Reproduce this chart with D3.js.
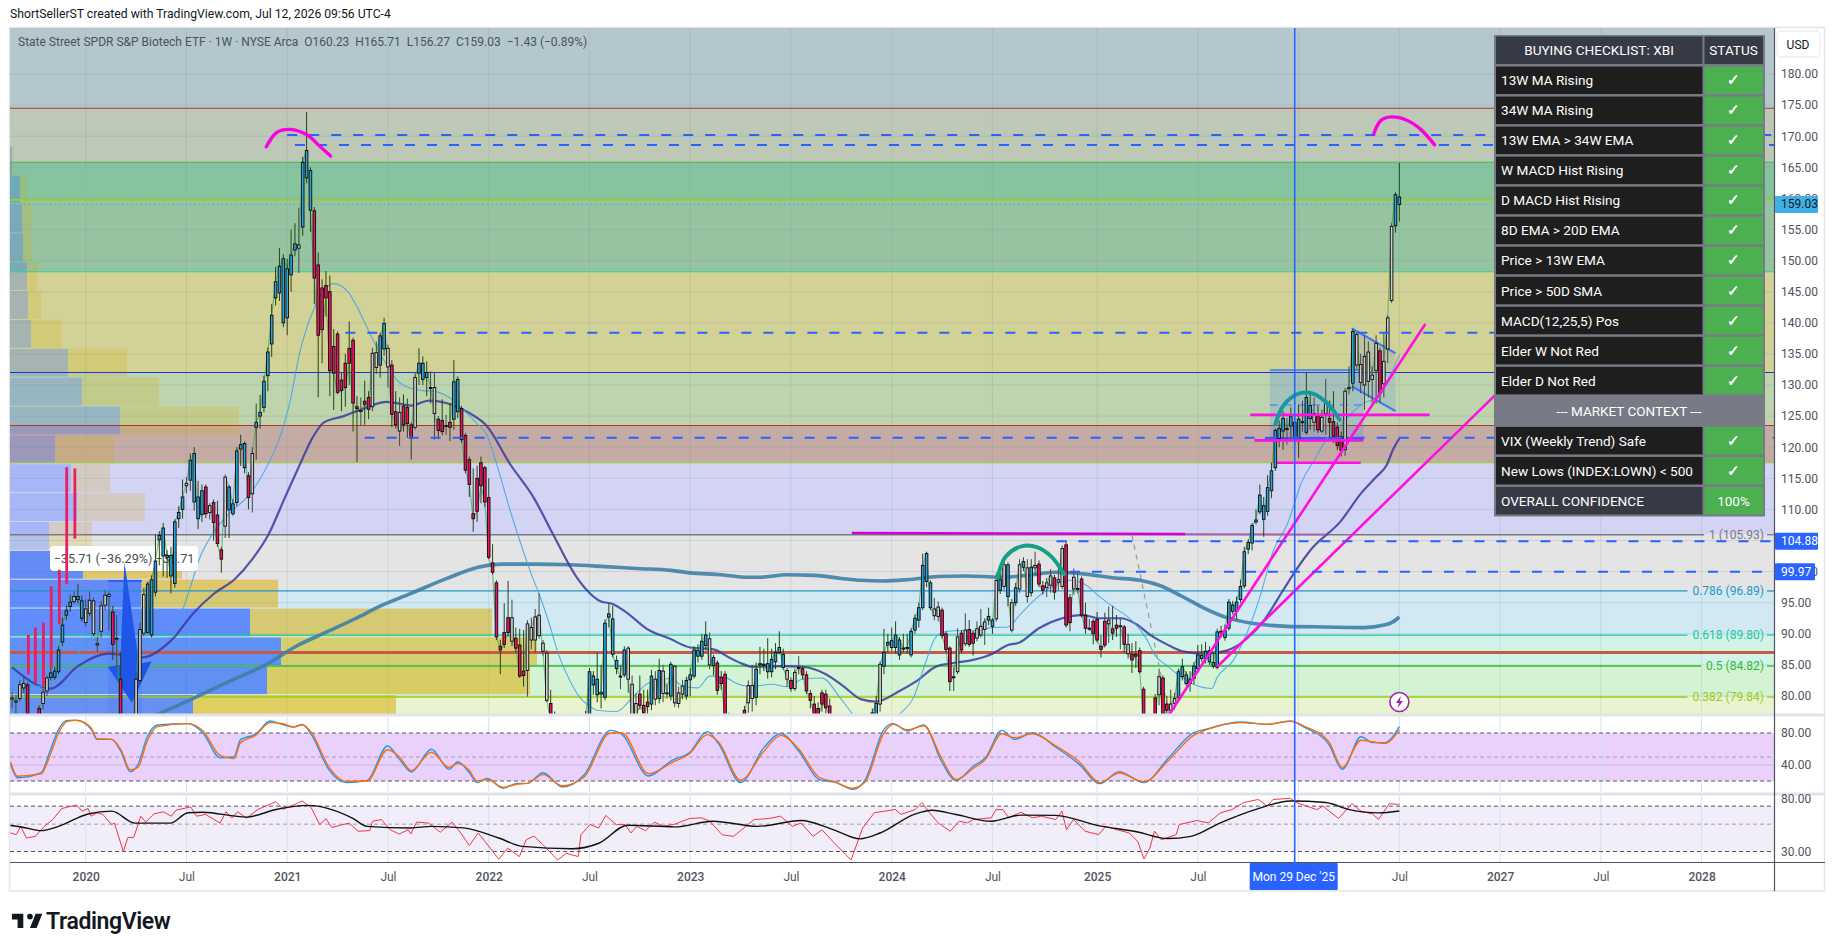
<!DOCTYPE html>
<html><head><meta charset="utf-8">
<script src="https://d3js.org/d3.v7.min.js"></script>
<style>html,body{margin:0;padding:0;background:#fff;overflow:hidden}svg{display:block}text{font-family:Roboto,"Liberation Sans",sans-serif}</style>
</head><body><svg id="c" width="1835" height="951"></svg>
<script>
// ---------- weekly candles, first bar is 19 weeks before 6 Jan 2020, ten per line ----------
const opens=[79.5,79.2,79.6,81.3,81.8,76,75,78,78.8,80.8,
83,83,83.9,88.7,93,94.4,95.2,95.5,95.3,94,
93.3,95.3,88.4,90.4,94.6,96,93.5,89.3,82.7,75,
70,66,77,82.5,90.1,90.2,89.8,96.7,105.1,102.5,
102.3,102.6,98.1,108.5,110,113.8,114.7,111.2,112,113,
113.6,109.5,111.1,109.1,103.5,107.3,109.9,109.3,111.1,119.7,
116.7,115.4,112.5,123.2,125,126.4,131.5,136.6,144,144.8,
140,140.8,147.7,151.7,152,155.4,163.3,164.5,158,149.3,
145.6,146,145,136.2,138.2,130.8,133.5,135.9,137.2,126.5,
125.9,127.4,128,126.5,132.8,133.2,135.8,135.9,133.2,125.7,
125.6,126.6,126.4,123.6,123.2,131.9,133.5,131.2,129.6,129.6,
124.5,124.3,123.5,124,124.5,125.7,126.2,121.9,118,109.3,
115,117.5,116.7,111.9,101.4,98.2,88,90.2,92.6,92.6,
89.3,88.2,84,84.1,89,89,89.7,88.5,86.9,78.8,
76,74,71,69,67,64,66,70,68,76.5,
81.8,82.7,80.3,79.8,92.7,92.4,85.7,83.2,83.4,87.7,
81.9,78.8,80.3,78.5,79,78.7,82.7,79.6,80.4,80.4,
80,84.8,80.5,81.6,80,82.6,83.2,86.4,86.4,88.1,
89.2,84.9,85.3,83,83.5,76,72,71,69,77.7,
78.9,81.7,79.8,85,84.9,85.2,83.9,85.5,87,86.7,
84.1,82.5,81.2,84.6,84.4,83.4,80.4,78.7,78,80.5,
80.3,78.4,76,74,72,73,71,69,67,65.5,
66,67,70,74,78.7,84.8,88.2,87.8,87.8,86.6,
87.6,87.6,86.6,90.6,92.2,94.2,98.4,98.2,94,92.8,
93.8,90,87.7,83.1,83.9,90.1,88.4,90.7,90.1,89.3,
89.8,90.7,92.2,92.2,92.4,97,97.6,101.1,95,95,
97.2,100.7,100.6,96.6,100.6,101.2,97.7,97.4,97.8,99,
98.3,97.6,104.3,95.8,97.2,97.3,98.8,93,90.9,92,
92.3,88,92,91.6,90.8,91.4,91.3,91.1,88.3,86.7,
86.7,87.3,81.1,76,72,79.7,80.2,82.9,78.7,77.7,
78.8,79.7,83.1,82,82,82.8,84.4,86,86,87.3,
85.4,84.6,90.1,89.4,90.9,93.6,93.6,95.5,97.7,103.6,
104.6,108,109.6,110.6,109.7,113,116.7,121.4,122.6,123,
123.4,124,121.2,124.1,122.4,124.6,124,125,122.6,125.4,
124.6,124.1,123.2,121.7,119.6,129.4,130.3,133.2,133.3,130,
130.6,130.9,132.3,135.5,130.2,135.8,143.6,155.6,160.23];
const closes=[79.7,79,81.8,82,76,75,76.5,76,80.6,82.9,
83.7,84,87.4,91.4,93.7,95.1,96,96,92.5,91.8,
95.4,90,88.2,94.5,96.2,96.3,88.3,89.3,75,70,
66,72,82.7,90.7,96.3,98,98.7,101.7,105.8,107,
102.6,99.3,108,109.5,112,114.2,117.9,119,108.5,109.2,
109.3,110.6,107.9,104.5,102,115.2,113.6,110.9,119.4,120.4,
120.6,111.9,119,124,125.6,130.6,135.3,141.2,146.6,149.1,
150.3,148.7,150.9,152.7,152.5,165.8,167.7,158.1,147.2,138,
138.9,144,132.3,131.9,128.8,129.1,129.6,133.5,127.1,126.2,
125.9,126.9,126.1,135.1,135.2,137.9,139.9,132.9,125.3,123.6,
122.6,123.6,123.8,121.4,131.2,133.5,130.9,132,129.6,125.4,
122.7,122.5,123.5,123.2,130.5,130.9,121.2,116.3,114,108.5,
109.7,113.8,111.2,102.3,99.9,89.5,87.4,88.3,90.2,88.8,
87.7,83.2,83.3,91.6,91,92.7,93,87.2,79.3,76,
74,71,69,67,64,66,70,68,76,83.9,
83.2,80.2,80.6,91.7,93.2,86.7,84.4,83.2,87.4,82.7,
77,76.8,78.5,77.3,78.3,83.2,79.5,84.1,84,80.5,
85.1,78.9,78.8,80.3,82.5,83.4,87.4,87.3,88.8,89.8,
85,86.2,80.9,82,76.8,72,70,68,72,76.5,
81.7,79.6,84.3,85.2,85.1,83.9,85.9,87,87.8,84.6,
82.7,81.2,83.8,84.6,83.4,80.8,79.3,77,76.5,78.7,
78.1,76.9,74,72,73,71,69,67,65.5,66,
67,70,77.3,78.8,85.1,87,88.6,88.9,89.8,89,
87.7,87.8,90.4,92.5,94.2,101,102.9,94.2,92.9,94.3,
89.7,87.5,82.3,83.1,89.5,87.4,90.6,88.3,88.5,90.8,
91.2,91.9,92.8,91.2,98.6,98.7,101.1,96,90.6,97.4,
101.1,101.6,96,100.7,101,98,97,98.2,99.3,96.7,
98.7,103.7,91.4,91.8,99.1,97.2,93,90.9,90.9,90,
89,87.5,88.2,92.2,90.1,90.9,91.3,88.3,86.8,85.8,
86.4,83.9,76,70,75,76.5,83.1,76.5,77.7,78.7,
79.6,83.9,84.7,83.4,82.7,84.8,86.6,86.5,87.2,85.5,
84.8,90.3,90.4,90.5,95.1,94.6,95.1,97.6,103.2,104.7,
107.4,108.3,112.3,108.4,113.5,116.2,122.7,123,124.6,123,
124.9,121.4,124.5,124.1,128,126.7,125.4,122.8,124.8,127.4,
124,121.7,120.3,119.5,129,129.6,138.6,138.1,130.4,134.6,
135.3,131.6,136.7,128.7,133.8,140.8,155.5,160.6,159.03];
const highs=[80.6,80.2,82.5,83,82.2,77,77.2,78.5,81.2,83.3,
84.5,84.6,88,92.6,94.6,96.3,96.8,98,96.2,95.5,
96.8,95.8,89.5,95.2,97,96.8,94.5,93,87,76,
72,73,83.8,91.8,97.4,98.4,99.4,106,106.5,107.8,
103.5,104,108.4,110.5,114.8,115.2,119,120,114.6,114,
114,111,111.6,111.4,104,115.6,113.9,111.6,120,122,
120.9,116,120,127,128.4,131.5,136,143,149,152,
151,150.3,155,156,158.5,166.7,173.9,165,158.6,151.3,
147,148.3,147.6,139,138.6,132,135,140.2,137.6,128.2,
128,130.7,129,136,137,138.4,140.8,136.5,134,129,
128,128.5,127.8,124,132,135.9,134.6,133.8,132.2,132,
125,127.7,125.2,127,134,131.4,126.6,122.3,118.5,116.6,
117,118.5,117,115,104.4,98.6,89,94.9,98.5,95.5,
91,90.8,90.6,92.2,92.6,94,96.5,89,87.4,81,
77.5,76,73,71,69,68,71,72,77.6,84.5,
84,87,85,92.3,94.8,94.5,86.5,85,88,88,
83.3,80.4,83.3,81,81,84.2,84,86,85,82,
85.5,85,81.5,82.6,83.1,84.5,88,88.3,90,92,
90.2,86.6,85.7,84,84,77.3,74,73,74,78.4,
82.5,85,85.4,87.9,87.6,89.3,87.6,88.5,90.4,87.6,
84.5,83,84.4,86.4,84.8,84,81,80,79,81,
81,79.6,77,75.5,75,74.5,72.5,71,68.5,68,
69,72,78,80,85.6,90.8,90,91,92,89.5,
90,90,90.9,93.1,95,102.9,103.2,98.6,95.8,95.2,
94.2,90.4,88,84.6,90.9,90.6,93.3,92.2,90.5,92,
94,92.5,94.2,92.5,99.8,101,102.5,101.5,95.6,98.2,
102,102.3,102,102,103.2,101.8,98.5,99,100.4,99.5,
101,104.2,105,96.4,100.5,99.8,99.2,95,92.4,92.4,
93.5,89.7,93.4,94.4,94.5,93,92.5,91.4,90,88.5,
88.8,87.8,81.5,77,77,80.3,84.4,83.3,80,81,
80.5,84.4,86,84,84,85.5,88.2,88.3,88.7,88,
86.9,90.8,91.3,91.5,95.6,95.3,96,98.7,104,105.2,
107.8,110,114,112,115.5,117.5,123,124.3,125.8,124.7,
126.4,124.9,126.8,127.5,132,129,128,126.7,126,131,
127.5,129,124,122.5,129.5,133,139,138.5,135,138,
137,133,138,136,138.3,141.2,156,161,165.71];
const lows=[78,77,79.2,80.5,75,74,74.5,75,77.8,80,
82.5,82.6,83.5,88,92.2,93.5,94.8,94.9,92,91.2,
92.8,89.7,87.1,89.4,93.8,90.5,85.8,84.5,73,66,
64,65,75,82,89.6,90,89.4,96,101,99.2,
99,96.5,97.4,107,108.5,112.6,113,109.8,106.8,108,
108.6,108.4,105,104,99.8,105.4,105.4,109,110.5,117,
115.8,110,109.5,118,123,125.6,129,134.5,142.8,143.5,
139.3,138,145,150.7,148,154,162.4,154.6,143,128,
133.5,141,128.2,126,128.5,125.8,126.5,130,122.5,117.6,
123.4,123.6,124.5,125.8,131.8,131.2,134.7,129.6,123.2,123,
120.2,122.5,121.5,118,122.8,130,130,128.2,127,121.2,
121.3,121.9,122,121,122.8,124.7,120.7,115.8,112,106.4,
108,111,110.4,102,99.5,89,83.5,87.7,89.5,88,
87,82.9,81.5,79.9,87.5,87,89.2,86.5,79,75,
72.5,70,67,65,62,62,63,66,67,76,
80.2,79,78,79.3,91,86.2,83.5,81.1,83,80.5,
76.6,75.8,77.8,76.5,77,77.7,78.5,78.8,79,79.6,
79.3,78.2,78.1,79.5,79.4,80,82.8,85.4,85.8,87.3,
84.3,83.3,80.2,81,74,71,69,67,67,75.5,
77.3,77.5,78.5,83.5,84,82.8,83,84.3,86.7,84.2,
81.5,80.7,80.8,83.5,82.7,80.3,78,76,75,77.5,
77.2,75,73,71,70,69.5,68,66,64,64.2,
65,66.5,69.5,73.5,77.5,83.5,87,87.2,86.8,85.8,
87,86.8,86.2,90,91,93.8,97.5,93.8,92.2,92,
89.2,87,80.8,80.8,83.5,86.9,88,87.9,86.5,88.8,
89.4,88.2,91.4,90,92,96.4,97,94.4,90.2,94.5,
96.6,100.1,95,96,99.5,97.5,96.3,95.9,96.6,95.5,
97,97.2,91,90.4,96.3,96.5,92.6,90,90.5,88.3,
88.6,86.2,87.8,88.5,89,89.5,87.5,87,86,83.7,
84.5,83.6,75,66,66,75.5,78.5,75.5,76.9,77,
77.8,79.3,82.5,81.6,80.7,81.9,83.8,85.5,85.2,85,
84.4,84.3,89.4,88.9,90.5,93.1,92.3,95,97.3,102.8,
103.4,107.6,109.2,105.6,109,111.8,116.2,120,119.6,120.4,
121,120.2,118.3,122.5,122,122.8,122.5,122.3,122.3,122,
121.5,120.7,119.5,118.5,118.6,128.5,129,132.5,128.7,126,
128,126.5,127,127.2,128,133.5,143.2,154.5,156.27];
const impulse=("ggggrrgrgg"+"bbbbbbgbbg"+"ggggggrgrr"+"rggggbbbbb"+"bbbbbgbbbb"+"rgrrrgbbbb"+"brgbbbbbbb"+"bbbbgbbbrr"+"rrrrrrrrrr"+"grrggbbgrr"+"grrrgbbbgg"+"rrgrbbrrrr"+"rrrrrrrrrg"+"rrrggggggr"+"rrrrrrggbb"+"bbbbbbbgbg"+"ggrrrbgbgg"+"bgggbbbbbb"+"gbrrrrrrrr"+"ggbbbbbbbb"+"grggrrrrrr"+"rrrrrrrrrg"+"ggbbgbbbbb"+"bbbbbbbbgg"+"rrrggrgrrg"+"ggbbgbgbgb"+"gbgbgrrggr"+"ggrrggrrgr"+"rrrgrrgrgr"+"rrrrrrgrrg"+"gbbbbbbbbb"+"bbbbbbbbbb"+"bbbbbbbbbg"+"bbbgbbgrgg"+"rrrrggbggg"+"gggrgggbb").split("");
const firstWeek=-19;

// ---------- moving averages: [week since 6 Jan 2020, price] ----------
const ma13=[[-19,83],[-12,81.5],[-8,82.5],[-3,86],[0,88.5],[4,91],[7,93],[9,91],[11,87.5],[13,87],[15,88],[19,89.1],[22.6,89.5],[25,93.7],[27,97.5],[29.5,102.3],[33,106.3],[37,109.3],[42.4,112.5],[46.7,116.8],[51,123.3],[53,128.1],[55,134.6],[57.5,140],[59.6,143.2],[61.7,145.4],[64,146.3],[67.8,144.9],[70,142.6],[72.5,139.4],[75,136.2],[77.7,133.2],[80.3,130.8],[83.7,129.5],[87,129.1],[90.6,128.9],[94,127.9],[97.5,126],[101,123.8],[103.5,122],[106,117.4],[109.5,109.9],[112,105],[115,99.6],[117,96.4],[119.4,92.1],[122,86.7],[125,82.4],[127.6,79.7],[130,78.4],[132,77.7],[137,77.5],[141,79.7],[145,82],[148,82.5],[151,82.9],[154,81.6],[158,81.3],[161,83.2],[165,83],[168,82],[171.5,81.5],[177,81.9],[181,81.5],[185,82.7],[190,82.9],[194.7,79.7],[198,77],[202,74],[206,73.5],[210,77],[213.6,79.7],[216.6,85.1],[218.8,88.9],[221,90.2],[224,90.5],[229,90.5],[234,91],[238,91.1],[241,93],[244.6,95.3],[250,97.8],[254,98.6],[258,97.9],[261.8,95.9],[265,94.4],[270,92.1],[274,88.9],[276,86.5],[279,84.9],[282.4,83.2],[287,81.6],[290.6,81.2],[292,83],[296,85.6],[299.6,90],[303,95.9],[306.5,103.4],[310,107.5],[314,114.7],[317,117.9],[320,121.1],[324.6,124.1],[329,126.8],[334,128.4],[337,131.9],[339,134.8]];
const ma34=[[-19,84.6],[-9,81.2],[-2,84.8],[6,86.8],[14.6,86.2],[22,88.9],[27.9,93.4],[33,96.4],[38.5,98.8],[43,102],[47.2,106],[51.4,111.9],[55.4,117.4],[58.5,121.5],[61.5,124],[66.6,125],[70.8,126],[77.8,127.3],[84,126.7],[88.6,127.5],[94.2,126.9],[99.3,125.4],[103.4,123.5],[109.5,117.3],[115.6,111.9],[120.6,106],[126.8,99],[133,95.2],[136,94.8],[139.6,93.4],[144.8,90.8],[150.8,89.2],[156,87.8],[162,87.5],[166,86.2],[169,85.3],[172,84.7],[180,84.8],[185,84.7],[191,83.5],[195.5,81.6],[200,79.5],[204,79.1],[210,80.8],[214.4,82.4],[219.7,84.8],[224,85.3],[229,85.8],[234,86.8],[238,88.2],[241,88.6],[246,90.9],[252,92.5],[257,93],[262,92.5],[267,92.5],[271,91.6],[275,89.7],[279,88.3],[283,87.2],[289,86.8],[294.4,87.3],[299.6,89.2],[304,92.1],[309,97],[312.5,100.4],[316,103.4],[324,108.2],[329,112.5],[333,115.2],[335.7,117.1],[337.5,119.8],[339,121.4]];
const ma200=[[5,75],[14,76],[22,78],[28,79.7],[39,82.9],[46.7,85.1],[54.3,88],[61.5,90.1],[69.8,92.5],[75.8,94.4],[84,96.5],[93.2,98.9],[101.3,100.7],[107.5,101.2],[115.6,101.2],[125,101.1],[134,100.8],[142,100.5],[151,100.2],[156,99.8],[164,99.5],[170,99.1],[174,99.1],[181,99.5],[188,99.4],[195,98.9],[200,98.6],[206,98.5],[212,98.7],[220,99.2],[227,99.3],[236,99.1],[243,99.4],[250,99.9],[258,99.6],[265,99],[272,98.6],[277,97.8],[283,96],[289,94],[294.4,92.6],[301,91.7],[310,91.2],[320,91.1],[330,91],[335,91.4],[337,91.8],[339,92.7]];

// ---------- lower panes ----------
const stochWeeks=[-19.4,-17.6,-11.5,-9.2,-7,-4.7,-2.4,1.4,2.9,6.7,9,11.5,13.5,15.8,18.5,26.4,30.2,34.7,38.2,40,43.8,47.6,50.6,53.6,55.9,58.2,62.7,67.2,72.6,77.9,81,84,89.2,93.8,96,99,101,103.6,107.7,111.2,114,118,123,128.6,135.4,138.4,145.2,151.3,155.8,160.4,163.4,169,175,179.4,184,189.2,193.6,197.9,201,206,208.4,212,216.3,220.8,224.6,229.1,232.2,236.4,239.7,244.3,250.3,256.4,261.7,266.7,273.1,279.1,285.9,289.7,298,304.9,310.9,314.7,320.8,324.3,329.1,332.1,335.2,339];
const stochK=[40.8,24,30.4,57.5,84.6,95.8,95.8,84.6,72,72,57.5,31.7,40.8,74,90,91.7,80.4,49,50,72,78.3,95,90.8,87.5,90.8,78.3,34.6,18,20.8,63.8,47,31.3,59.6,34.6,44,30.4,18,23.3,10.8,17,17,30.4,12.5,27.5,83.3,78.3,26.3,45.8,55.4,81.7,65.8,18,61.7,79.2,57.5,22,18,9.6,20,84.6,91.7,82.5,90,45,20.8,38.8,49,83.3,72,80.4,62.5,40.8,16.7,31.7,18,47,80.4,85.4,93.8,90.8,95,86.7,65.8,34.6,75.4,68,68,88];
const stochD=[44,26,29,52,80,94.5,96,86.5,73,72,60,34,37,69,88,91.7,83,52,48,68,77,93,91.8,87.5,90,81,38,19.5,20,59,50,33,56,37,42,33,20,22,12,16,17,28,14,25,80,80,29,43,54,78,68,21,57,77,60,25,18.5,11,18,80,91,84,89,49,22,36,47,79,74,79,64,44,18,30,19,44,77,85,93,91,94.5,88,69,37,71,69,67,84];
const rsiPoints=[[-19.4,42.4],[-17.9,41.1],[-16.8,48],[-15.3,38.6],[-13,39.8],[-10.7,48],[-8.5,54.5],[-6.2,67],[-2.4,71.5],[-.9,63.8],[.6,67],[1.4,58],[2.9,61.8],[4.4,60],[6.7,49.6],[7.4,51],[9.7,30],[10.9,39],[12.4,39],[14.2,58],[15.5,52],[17.6,60.5],[20,63],[22.1,58],[23.3,65],[27.1,69],[28.6,58],[30.9,60],[34.7,51],[36.2,63],[37.7,56],[39.2,63],[41.5,56],[44.5,66],[49.1,76],[51,66],[52.9,70],[55.9,77],[58.2,68],[60.4,49.6],[62,55.5],[63.5,47],[65.7,49],[68,51],[70.3,43.8],[73.3,44.3],[74,52.8],[76.3,54.5],[78.6,45],[80.9,41.6],[83.2,45],[83.9,41.6],[85.4,52],[88.5,51],[91.5,43],[94.5,52],[96.8,42.4],[99,33.5],[101.3,42.4],[104.4,31.9],[106.6,26],[108.9,31.9],[111.9,27.3],[113.7,37.5],[115.7,40],[118,34],[121.8,25.6],[124,29],[127.1,27.3],[127.8,41],[130.1,49.6],[132.4,46.6],[134.2,58.8],[136.9,49.6],[139.2,49.6],[140.7,42.4],[142.2,48],[144.5,44.3],[146.8,52],[149,48],[152,50],[155.8,55.5],[158.9,56.3],[161.1,52.8],[164.2,41],[167.2,39.8],[172.5,54.5],[176.3,55.5],[179.3,58],[182.4,48],[184.6,51],[187.7,39.8],[190,45],[193,35.7],[197.5,25.6],[200.5,46.6],[203.5,61.8],[208.9,65.8],[210.4,60],[214,65.6],[215.8,74.9],[217.8,61.7],[220,51.2],[223.1,43.8],[225.4,52.8],[227.6,51.2],[229.1,54.5],[233.7,56.3],[234.9,65.6],[236.7,65.6],[238.2,56.3],[241.3,62.5],[244.3,56.3],[246.6,58],[250.3,54.5],[251.9,63.8],[253.1,45],[254.9,54.5],[257.9,43.8],[261.4,41.1],[263.2,48],[266.2,45],[269.3,42.4],[271.5,36.2],[273.1,26.1],[274.6,31.9],[275.8,43.8],[277.6,37.3],[281.4,41.1],[282.2,49.6],[286.7,53.5],[289.7,51.2],[292.8,61.7],[295.8,65.6],[298.8,74.9],[302.6,79.3],[304.9,70],[306.4,79.3],[310.9,81],[312.4,74.9],[317.7,65.6],[319.3,70],[323.3,55.6],[326.8,73.2],[329.1,63.8],[332.1,60.4],[333.6,54.5],[336.4,73.2],[339,72.4]];
const rsiMa=[[-19.4,48.7],[-16,47],[-11.5,44.3],[-7,48],[.6,60.5],[6.7,63.8],[12.7,51],[21.8,51],[26.4,61.8],[30.1,62.5],[41.5,57],[49.1,65.8],[57.4,71],[68.8,56],[72.6,48],[83.9,46.6],[89.2,48],[97.5,46.6],[106.6,38.6],[112.7,33],[125.6,31.6],[132.4,35],[139.9,49],[152,47.5],[161.9,52.8],[173.3,48],[184.6,53.5],[193,45],[199.8,38],[205,42.4],[214,60.4],[218.5,64.8],[224.6,59.9],[233.7,52.8],[241.3,59.2],[250.3,58.9],[261,48.9],[271.5,43.2],[279.1,38.2],[285.2,39.8],[292.8,51.2],[301.8,65.6],[310.9,77],[320,74.9],[326.1,65.6],[333.6,61.7],[339,64]];

// ---------- horizontal structure ----------
const bandEdges=[187.6,174.5,165.8,159.8,148.2,132,123.5,117.5,105.93,96.89,89.8,84.82,79.84,76.8];
const bandFills=["#b4c7cd","#bdc8b7","#86c4a0","#96c4a0","#d2d296","#bdd4ad","#c4aca5","#d3d4f3","#e4e4e4","#d2e8f3","#d2f4e8","#d4f2d4","#e8f4d0"];
const levelPrices=[174.5,165.8,159.8,148.2,132,123.5,117.5];
const levelColors=["#b03030","#3cb44b","#9acd32","#2ecc9a","#2433d8","#b5352a","#94cc24"];
const fibRatios=["1","0.786","0.618","0.5","0.382"];
const fibPrices=[105.93,96.89,89.80,84.82,79.84];
const fibColors=["#787b86","#2196c8","#20c9a0","#2bbd2b","#9ccc14"];
const redLevel=87;
const dashedPrices=[170.2,168.6,138.4,121.5,104.88,99.97];
const dashedStart=[52,54,67,72,250.5,254];
const priceTicks=[180,175,170,165,160,155,150,145,140,135,130,125,120,115,110,105,100,95,90,85,80];
const timeLabels=["2020","Jul","2021","Jul","2022","Jul","2023","Jul","2024","Jul","2025","Jul","Jul","2027","Jul","2028"];
const timeTickWeeks=[0,26,52,78,104,130,156,182,208,234,261,287,339,365,391,417];
const gridWeeks=[0,26,52,78,104,130,156,182,208,234,261,287,313,339,365,391,417];

// ---------- volume profile, bottom row first ----------
const vpLow=[75.5,80.14,84.78,89.42,94.06,98.7,103.34,107.98,112.62,117.26,121.9,126.54,131.18,135.82,140.46,145.1,149.74,154.38,159.02,163.66];
const vpUp=[183,257,271,240,131,73,39,67,61,45,110,72,58,21,18,17,13,12,10,2];
const vpTotal=[386,520,527,482,268,172,82,135,100,104,229,149,117,52,31,28,22,22,17,4];

// ---------- drawings on the chart: [week, price] ----------
const arcPinkA=[[46.6,168.3],[49.3,170.6],[52.7,171.1],[57.2,170.2],[60.2,168.5],[63.2,166.8]];
const arcPinkB=[[332.4,170.4],[334.2,172.5],[336.9,173.1],[340.8,172.6],[344.5,171.1],[348.1,168.6]];
const arcTealA=[[235.3,99],[237.4,102.4],[241.7,104.1],[245.6,103.9],[249.2,102.4],[252.5,99.6]];
const arcTealB=[[307,123.7],[309.1,126.7],[313,128.6],[316.7,128.6],[320.6,126.9],[323.6,124.4]];
const redBars=[[-14.8,89.8,83.5],[-13,91,82.1],[-10.9,91.8,81.5],[-8.9,97.6,84.5],[-6.8,100.3,91.6],[-4.9,116.8,98],[-2.8,116.6,105.3]];
const arrowShape=[[10,101.5],[13.8,85.2],[17,85.6],[11.9,78.9],[5.7,84.7],[8.9,85]];
const magentaSegments=[[[279.7,77.1],[345.7,139.8]],[[292,84.7],[370,132.2]],[[300.5,125.2],[346.8,125.2]],[[301.6,121.1],[329.7,121.1]],[[307.4,117.5],[329,117.5]]];
const flagTop=[[326.7,139.1],[338,135.1]];
const flagBottom=[[326.7,129.8],[338,125.8]];
const box=[305.6,329.7,132.4,121.4,126.8];
const measure=[5.7,14.5,98.5];
const checklist=["13W MA Rising","34W MA Rising","13W EMA > 34W EMA","W MACD Hist Rising","D MACD Hist Rising","8D EMA > 20D EMA","Price > 13W EMA","Price > 50D SMA","MACD(12,25,5) Pos","Elder W Not Red","Elder D Not Red"];
const contextRows=["VIX (Weekly Trend) Safe","New Lows (INDEX:LOWN) < 500"];

// ---------- scales ----------
const base=Date.UTC(2020,0,6), WEEK=7*864e5;
const dt=w=>new Date(base+w*WEEK);
const xT=d3.scaleUtc().domain([dt(0),dt(417)]).range([85.7,1701.6]);
const X=w=>xT(dt(w));
const Y=d3.scaleLinear().domain([180,80]).range([74,696]);
const L=d3.line().x(d=>X(d[0])).y(d=>Y(d[1]));
const Lc=d3.line().x(d=>X(d[0])).y(d=>Y(d[1])).curve(d3.curveMonotoneX);
const Ls=d3.line().x(d=>X(d[0])).y(d=>Y(d[1])).curve(d3.curveCatmullRom);
const yS=d3.scaleLinear().domain([80,20]).range([733,781]);
const yR=d3.scaleLog().domain([30,80]).range([851.5,799]);
const vpW=d3.scaleLinear().domain([0,100]).range([0,100]);

const svg=d3.select("#c");
const defs=svg.append("defs");
[["cm",10,28,1764,687],["cs",10,717,1764,75],["cr",10,796,1764,66]].forEach(c=>defs.append("clipPath").attr("id",c[0]).append("rect").attr("x",c[1]).attr("y",c[2]).attr("width",c[3]).attr("height",c[4]));

// frame & header
svg.append("text").attr("x",10).attr("y",18).attr("font-size",12.2).attr("fill","#131722").text("ShortSellerST created with TradingView.com, Jul 12, 2026 09:56 UTC-4");
svg.append("rect").attr("x",9.5).attr("y",27.5).attr("width",1815).attr("height",863.5).attr("fill","#fff").attr("stroke","#e3e5ea").attr("stroke-width",1.5);

// ---- main pane
const m=svg.append("g").attr("clip-path","url(#cm)");
m.selectAll(".band").data(bandFills).join("rect").attr("x",10).attr("width",1764).attr("y",(d,i)=>Y(bandEdges[i])).attr("height",(d,i)=>Y(bandEdges[i+1])-Y(bandEdges[i])).attr("fill",d=>d);
// grid
m.selectAll(".gv").data(gridWeeks).join("line").attr("x1",X).attr("x2",X).attr("y1",28).attr("y2",715).attr("stroke","#7f93ad").attr("stroke-opacity",.2);
m.selectAll(".gh").data(priceTicks).join("line").attr("x1",10).attr("x2",1774).attr("y1",Y).attr("y2",Y).attr("stroke","#7f93ad").attr("stroke-opacity",.24);
// volume profile
const strong=i=>i<6;
const rowH=i=>Y(vpLow[i])-Y(vpLow[i]+4.64)-1;
m.selectAll(".vpt").data(vpTotal).join("rect").attr("x",(d,i)=>10+vpW(vpUp[i])).attr("width",(d,i)=>vpW(d-vpUp[i])).attr("y",(d,i)=>Y(vpLow[i]+4.64)).attr("height",(d,i)=>rowH(i)).attr("fill","#d8ac00").attr("fill-opacity",(d,i)=>strong(i)?.52:.2);
m.selectAll(".vpu").data(vpUp).join("rect").attr("x",10).attr("width",d=>vpW(d)).attr("y",(d,i)=>Y(vpLow[i]+4.64)).attr("height",(d,i)=>rowH(i)).attr("fill","#2962ff").attr("fill-opacity",(d,i)=>strong(i)?.68:.26);
// level lines
m.selectAll(".lvl").data(levelPrices).join("line").attr("x1",10).attr("x2",1774).attr("y1",Y).attr("y2",Y).attr("stroke",(d,i)=>levelColors[i]).attr("stroke-width",(d,i)=>i==2?1.6:1.1);
m.append("line").attr("x1",10).attr("x2",1774).attr("y1",Y(redLevel)).attr("y2",Y(redLevel)).attr("stroke","#c55a45").attr("stroke-width",3);
// fib lines + labels
fibPrices.forEach((p,i)=>{
  const t=m.append("text").attr("x",1764).attr("y",Y(p)+4).attr("text-anchor","end").attr("font-size",12).attr("fill",fibColors[i]).text(fibRatios[i]+" ("+p.toFixed(2)+")");
  const w=t.node().getComputedTextLength();
  m.append("line").attr("x1",10).attr("x2",1764-w-5).attr("y1",Y(p)).attr("y2",Y(p)).attr("stroke",fibColors[i]).attr("stroke-width",i==0?1.4:1.3);
  m.append("line").attr("x1",1767).attr("x2",1774).attr("y1",Y(p)).attr("y2",Y(p)).attr("stroke",fibColors[i]).attr("stroke-width",1.3);
});
// last price dotted
m.append("line").attr("x1",10).attr("x2",1774).attr("y1",Y(159.03)).attr("y2",Y(159.03)).attr("stroke","#38afe6").attr("stroke-dasharray","1.5 3");
// measure drawing
m.append("rect").attr("x",X(measure[0])).attr("width",X(measure[1])-X(measure[0])).attr("y",Y(measure[2])).attr("height",715-Y(measure[2])).attr("fill","#2962ff").attr("fill-opacity",.14);
m.append("line").attr("x1",X(measure[0])).attr("x2",X(measure[1])).attr("y1",Y(measure[2])).attr("y2",Y(measure[2])).attr("stroke","#2962ff").attr("stroke-width",2);
// flag and box
m.append("rect").attr("x",X(box[0])).attr("width",X(box[1])-X(box[0])).attr("y",Y(box[2])).attr("height",Y(box[3])-Y(box[2])).attr("fill","#2962ff").attr("fill-opacity",.17);
m.append("line").attr("x1",X(box[0])).attr("x2",X(box[1])).attr("y1",Y(box[2])).attr("y2",Y(box[2])).attr("stroke","#5a8cf0").attr("stroke-width",2);
m.append("line").attr("x1",X(box[0])-5).attr("x2",X(box[1])).attr("y1",Y(box[3])).attr("y2",Y(box[3])).attr("stroke","#2962ff").attr("stroke-width",3);
m.append("line").attr("x1",X(box[0])).attr("x2",X(box[1])).attr("y1",Y(box[4])).attr("y2",Y(box[4])).attr("stroke","#5a8cf0").attr("stroke-dasharray","8 6").attr("stroke-width",1.5);
m.append("path").attr("d",L([...flagTop,...flagBottom.slice().reverse()])+"Z").attr("fill","#2962ff").attr("fill-opacity",.13);
[flagTop,flagBottom].forEach(s=>m.append("path").attr("d",L(s)).attr("stroke","#3f78f2").attr("stroke-width",2.2).attr("fill","none"));
// grey dashed connector
m.append("path").attr("d",L([[270,105.9],[279.6,77]])).attr("stroke","#9a9a9a").attr("stroke-width",1.2).attr("stroke-dasharray","5 5").attr("fill","none");
// 200w, 34w, 13w
m.append("path").attr("d",Lc(ma200)).attr("fill","none").attr("stroke","#3f7fa6").attr("stroke-width",3.6).attr("stroke-opacity",.9);
m.append("path").attr("d",Lc(ma34)).attr("fill","none").attr("stroke","#3b3a9e").attr("stroke-width",2.2).attr("stroke-opacity",.85);
m.append("path").attr("d",Lc(ma13)).attr("fill","none").attr("stroke","#3ea3e6").attr("stroke-width",1.1).attr("stroke-opacity",.85);
// tooltip
m.append("rect").attr("x",50).attr("y",546).attr("width",148).attr("height",25).attr("rx",4).attr("fill","#fff");
m.append("text").attr("x",124).attr("y",563).attr("text-anchor","middle").attr("font-size",12.6).attr("fill","#4a4d57").text("−35.71 (−36.29%) −35.71");
// arrow
m.append("path").attr("d",L(arrowShape)+"Z").attr("fill","#1e56e8");
// red bars
m.selectAll(".rb").data(redBars).join("line").attr("x1",d=>X(d[0])).attr("x2",d=>X(d[0])).attr("y1",d=>Y(d[1])).attr("y2",d=>Y(d[2])).attr("stroke","#e91e63").attr("stroke-width",2.8);
// close line
const closePts=closes.map((c,i)=>[firstWeek+i,c]);
m.append("path").attr("d",L(closePts)).attr("fill","none").attr("stroke","#3fa34d").attr("stroke-width",1.2).attr("stroke-opacity",.65);
// purple resistance
m.append("path").attr("d",L([[197.7,106.2],[283.7,106.05]])).attr("stroke","#d500d8").attr("stroke-width",2.4).attr("fill","none");
m.append("path").attr("d",L([[283.7,106.05],[320,105.95]])).attr("stroke","#b060b8").attr("stroke-width",2).attr("stroke-opacity",.8).attr("fill","none");
// candles
const fills={b:"#2aa3dd",r:"#f0115f",g:"#cfcfcf"};
const cg=m.append("g");
const cd=closes.map((c,i)=>({w:firstWeek+i,o:opens[i],h:highs[i],l:lows[i],c,t:impulse[i]}));
cg.selectAll(".wk").data(cd).join("line").attr("x1",d=>X(d.w)).attr("x2",d=>X(d.w)).attr("y1",d=>Y(d.h)).attr("y2",d=>Y(d.l)).attr("stroke",d=>d.t=="g"?"#44474f":"#27450f").attr("stroke-width",1);
cg.selectAll(".bd").data(cd).join("rect").attr("x",d=>X(d.w)-1.3).attr("width",2.6).attr("y",d=>Y(Math.max(d.o,d.c))).attr("height",d=>Math.max(1,Math.abs(Y(d.o)-Y(d.c)))).attr("fill",d=>fills[d.t]).attr("stroke","#0b0b0b").attr("stroke-width",.9);
// trendlines, hlines, arcs
magentaSegments.forEach(s=>m.append("path").attr("d",L(s)).attr("stroke","#ff10e0").attr("stroke-width",2.6).attr("fill","none"));
dashedPrices.forEach((p,i)=>m.append("line").attr("x1",X(dashedStart[i])).attr("x2",1774).attr("y1",Y(p)).attr("y2",Y(p)).attr("stroke","#2962ff").attr("stroke-width",2).attr("stroke-dasharray","10 12"));
[[arcPinkA,"#f800e0",3.4],[arcPinkB,"#f800e0",3.4],[arcTealA,"#15a085",4],[arcTealB,"#159aa0",4]].forEach(a=>m.append("path").attr("d",Ls(a[0])).attr("fill","none").attr("stroke",a[1]).attr("stroke-width",a[2]).attr("stroke-linecap","round"));
// lightning
const lz=m.append("g").attr("transform",`translate(${X(339)},702)`);
lz.append("circle").attr("r",9.5).attr("fill","#fff").attr("stroke","#9c27b0").attr("stroke-width",1.6);
lz.append("path").attr("d","M1.5 -6 L-3.5 1 H-0.5 L-1.5 6 L3.5 -1 H0.5 Z").attr("fill","#9c27b0");
// legend
svg.append("text").attr("x",18).attr("y",46).attr("font-size",12).attr("fill","#4c525e").attr("xml:space","preserve").text("State Street SPDR S&P Biotech ETF · 1W · NYSE Arca  O160.23  H165.71  L156.27  C159.03  −1.43 (−0.89%)");

// ---- stochastic pane
const s=svg.append("g").attr("clip-path","url(#cs)");
s.append("rect").attr("x",10).attr("width",1764).attr("y",yS(80)).attr("height",yS(20)-yS(80)).attr("fill","#e9d1fb");
s.selectAll(".gv").data(gridWeeks).join("line").attr("x1",X).attr("x2",X).attr("y1",717).attr("y2",792).attr("stroke","#d6e2ee");
s.append("line").attr("x1",10).attr("x2",1774).attr("y1",yS(40)).attr("y2",yS(40)).attr("stroke","#c9b4e6");
[[80,"#55555f"],[50,"#a89ab6"],[20,"#55555f"]].forEach(d=>s.append("line").attr("x1",10).attr("x2",1774).attr("y1",yS(d[0])).attr("y2",yS(d[0])).attr("stroke",d[1]).attr("stroke-dasharray","4 3"));
const lnS=d3.line().x((d,i)=>X(stochWeeks[i])).y(d=>yS(d)).curve(d3.curveMonotoneX);
s.append("path").attr("d",lnS(stochK)).attr("fill","none").attr("stroke","#2196f3").attr("stroke-width",1.4);
s.append("path").attr("d",lnS(stochD)).attr("fill","none").attr("stroke","#ff6d00").attr("stroke-width",1.4);

// ---- RSI pane
const r=svg.append("g").attr("clip-path","url(#cr)");
r.append("rect").attr("x",10).attr("width",1764).attr("y",yR(70)).attr("height",yR(30)-yR(70)).attr("fill","#f1edf9");
r.selectAll(".gv").data(gridWeeks).join("line").attr("x1",X).attr("x2",X).attr("y1",796).attr("y2",862).attr("stroke","#d6e2ee");
[[70,"#55555f"],[50,"#a89ab6"],[30,"#55555f"]].forEach(d=>r.append("line").attr("x1",10).attr("x2",1774).attr("y1",yR(d[0])).attr("y2",yR(d[0])).attr("stroke",d[1]).attr("stroke-dasharray","4 3"));
const lnR=d3.line().x(d=>X(d[0])).y(d=>yR(d[1]));
r.append("path").attr("d",lnR(rsiPoints)).attr("fill","none").attr("stroke","#f23645").attr("stroke-width",1);
r.append("path").attr("d",lnR.curve(d3.curveMonotoneX)(rsiMa)).attr("fill","none").attr("stroke","#111").attr("stroke-width",1.4);

// separators & axes lines
[[715,"#e0e3eb",3],[794,"#e0e3eb",3]].forEach(d=>svg.append("line").attr("x1",10).attr("x2",1825).attr("y1",d[0]).attr("y2",d[0]).attr("stroke",d[1]).attr("stroke-width",d[2]));
svg.append("line").attr("x1",10).attr("x2",1825).attr("y1",862.5).attr("y2",862.5).attr("stroke","#50535e").attr("stroke-width",1.2);
svg.append("line").attr("x1",1774.5).attr("x2",1774.5).attr("y1",28).attr("y2",891).attr("stroke","#50535e").attr("stroke-width",1.2);

// crosshair
const cx=X(312);
svg.append("line").attr("x1",cx).attr("x2",cx).attr("y1",28).attr("y2",863).attr("stroke","#2962ff").attr("stroke-width",1.6);

// price axis
const axisY=d3.axisRight(Y).tickValues(priceTicks).tickSize(0).tickPadding(7).tickFormat(d3.format(".2f"));
const gy=svg.append("g").attr("transform","translate(1774,0)").call(axisY);
gy.select(".domain").remove();
gy.selectAll("text").attr("font-size",12).attr("fill","#50535e").attr("font-family","Roboto");
[[yS(80),"80.00"],[yS(40),"40.00"],[yR(80),"80.00"],[yR(30),"30.00"]].forEach(d=>svg.append("text").attr("x",1781).attr("y",d[0]+4).attr("font-size",12).attr("fill","#50535e").text(d[1]));
// time axis
const axisX=d3.axisBottom(xT).tickValues(timeTickWeeks.map(dt)).tickSize(0).tickPadding(9).tickFormat((d,i)=>timeLabels[i]);
const gx=svg.append("g").attr("transform","translate(0,863)").call(axisX);
gx.select(".domain").remove();
gx.selectAll("text").attr("font-size",12).attr("fill","#50535e").attr("font-family","Roboto").attr("font-weight",(d,i)=>timeLabels[i]=="Jul"?400:500);
// crosshair date label
svg.append("rect").attr("x",cx-45).attr("y",863).attr("width",88).attr("height",27).attr("fill","#2962ff").attr("rx",1);
svg.append("text").attr("x",cx-1).attr("y",881).attr("text-anchor","middle").attr("font-size",12).attr("fill","#fff").text("Mon 29 Dec '25");
// price labels
[[159.03,"#3fb1e8","#131722"],[104.88,"#2962ff","#fff"],[99.97,"#2962ff","#fff"]].forEach(d=>{
  svg.append("rect").attr("x",1775).attr("y",Y(d[0])-8.5).attr("width",d[0]==99.97?40:43).attr("height",17).attr("fill",d[1]).attr("rx",1);
  svg.append("text").attr("x",1781).attr("y",Y(d[0])+4).attr("font-size",12).attr("fill",d[2]).text(d[0].toFixed(2));
});
// USD
svg.append("rect").attr("x",1777).attr("y",31).attr("width",43).attr("height",26).attr("rx",4).attr("fill","#fff").attr("stroke","#eceef2").attr("stroke-width",1.5);
svg.append("text").attr("x",1798).attr("y",48.5).attr("text-anchor","middle").attr("font-size",12).attr("fill","#131722").text("USD");

// ---- checklist table
const rows=[{k:"head",a:"BUYING CHECKLIST: XBI",b:"STATUS"},...checklist.map(a=>({k:"row",a,b:"✓"})),{k:"ctx",a:"--- MARKET CONTEXT ---"},...contextRows.map(a=>({k:"row",a,b:"✓"})),{k:"tot",a:"OVERALL CONFIDENCE",b:"100%"}];
const rb=d3.scaleBand().domain(d3.range(rows.length)).range([35,515.5]);
const t=svg.append("g");
t.append("rect").attr("x",1494).attr("y",35).attr("width",271).attr("height",481.5).attr("fill","#787b86");
rows.forEach((d,i)=>{
  const y=rb(i)+1.5,h=rb.bandwidth()-2.5;
  if(d.k=="ctx"){
    t.append("text").attr("x",1629).attr("y",y+h/2+5).attr("text-anchor","middle").attr("font-size",13.5).attr("fill","#fff").text(d.a);
    return;
  }
  const c1=d.k=="row"?"#1e1e1e":"#363a45", c2=d.k=="head"?"#363a45":"#4caf50";
  t.append("rect").attr("x",1496).attr("y",y).attr("width",206.5).attr("height",h).attr("fill",c1);
  t.append("rect").attr("x",1704.5).attr("y",y).attr("width",58.5).attr("height",h).attr("fill",c2);
  const head=d.k=="head";
  t.append("text").attr("x",head?1599:1501).attr("y",y+h/2+5).attr("text-anchor",head?"middle":"start").attr("font-size",13.6).attr("fill","#fff").text(d.a);
  t.append("text").attr("x",1733.5).attr("y",y+h/2+5).attr("text-anchor","middle").attr("font-size",d.b=="✓"?15:13.5).attr("font-weight",d.b=="✓"?700:400).attr("fill","#fff").text(d.b);
});

// footer logo
const lg=svg.append("g").attr("transform","translate(10,908) scale(.95)");
lg.append("path").attr("d","M14 6H2v6h6v9h6V6zm14 15h-7l6-15h7l-6 15zm-7-9a3 3 0 1 0 0-6 3 3 0 0 0 0 6z").attr("fill","#131722");
svg.append("text").attr("x",46).attr("y",929).attr("font-size",23).attr("font-weight",600).attr("letter-spacing",-.4).attr("font-family","Inter").attr("fill","#131722").text("TradingView");
</script></body></html>
